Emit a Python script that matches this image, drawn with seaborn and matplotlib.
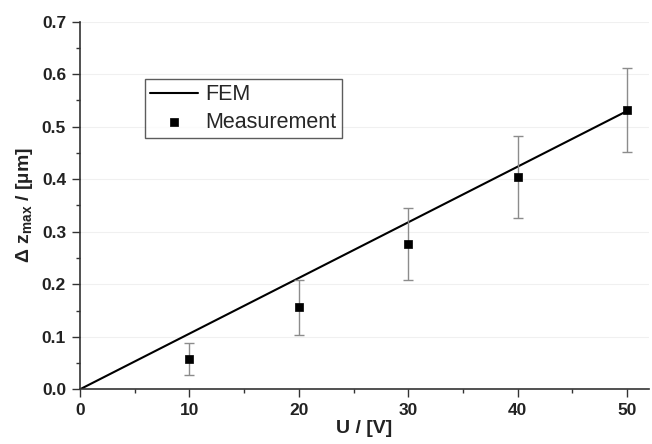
import numpy as np
import matplotlib
matplotlib.use('Agg')
import matplotlib.pyplot as plt
from matplotlib.ticker import MultipleLocator
import seaborn as sns

# FEM simulation (straight line through origin)
fem_u = [0, 50]
fem_dz = [0.0, 0.53]

# measured points with error bars
meas_u = [10, 20, 30, 40, 50]
meas_dz = [0.058, 0.156, 0.277, 0.404, 0.531]
meas_err = [0.030, 0.052, 0.069, 0.078, 0.080]


def main():
    sns.set_theme(style='ticks')
    plt.rcParams['font.family'] = ['Liberation Sans', 'DejaVu Sans']
    plt.rcParams['mathtext.fontset'] = 'custom'
    plt.rcParams['mathtext.rm'] = 'Liberation Sans:bold'
    plt.rcParams['mathtext.it'] = 'Liberation Sans:bold'
    plt.rcParams['mathtext.bf'] = 'Liberation Sans:bold'

    fig = plt.figure(figsize=(6.52, 4.44), dpi=100)
    ax = fig.add_axes([0.1227, 0.1232, 0.8727, 0.828])

    # faint horizontal grid
    for yv in np.arange(0.1, 0.71, 0.1):
        ax.axhline(yv, color='#f0f0f0', lw=0.8, zorder=0)

    sns.lineplot(x=fem_u, y=fem_dz, color='black', lw=1.5, label='FEM', ax=ax, zorder=2)
    ax.errorbar(meas_u, meas_dz, yerr=meas_err, fmt='none', ecolor='#8c8c8c',
                elinewidth=1, capsize=3.5, capthick=1, zorder=3)
    sns.scatterplot(x=meas_u, y=meas_dz, marker='s', s=40, color='black',
                    edgecolor='black', label='Measurement', ax=ax, zorder=4)

    ax.set_xlim(0, 52)
    ax.set_ylim(0, 0.7)
    ax.xaxis.set_major_locator(MultipleLocator(10))
    ax.xaxis.set_minor_locator(MultipleLocator(5))
    ax.yaxis.set_major_locator(MultipleLocator(0.1))
    ax.yaxis.set_minor_locator(MultipleLocator(0.05))
    ax.yaxis.set_major_formatter(plt.FormatStrFormatter('%.1f'))

    ax.tick_params(which='major', direction='out', length=6, width=1, color='#333333',
                   labelsize=12.5, pad=4)
    ax.tick_params(which='minor', direction='out', length=3, width=1, color='#333333')
    for lab in ax.get_xticklabels() + ax.get_yticklabels():
        lab.set_fontweight('bold')
        lab.set_color('#222222')

    sns.despine(ax=ax)
    for sp in ['left', 'bottom']:
        ax.spines[sp].set_color('#333333')
        ax.spines[sp].set_linewidth(1.2)

    ax.set_xlabel('U / [V]', fontsize=14, fontweight='bold', color='#222222', labelpad=1)
    ax.set_ylabel(r'$\Delta$ z$_{\mathregular{max}}$ / [µm]', fontsize=14,
                  fontweight='bold', color='#222222', labelpad=5)

    leg = ax.legend(loc='upper left', bbox_to_anchor=(0.114, 0.844), borderaxespad=0,
                    fontsize=15.5, frameon=True, fancybox=False, edgecolor='#333333',
                    handlelength=2.2, handletextpad=0.35, labelspacing=0.3,
                    borderpad=0.25, markerscale=0.8)
    leg.get_frame().set_linewidth(1.0)

    fig.savefig('out.png', dpi=100)


if __name__ == '__main__':
    main()
